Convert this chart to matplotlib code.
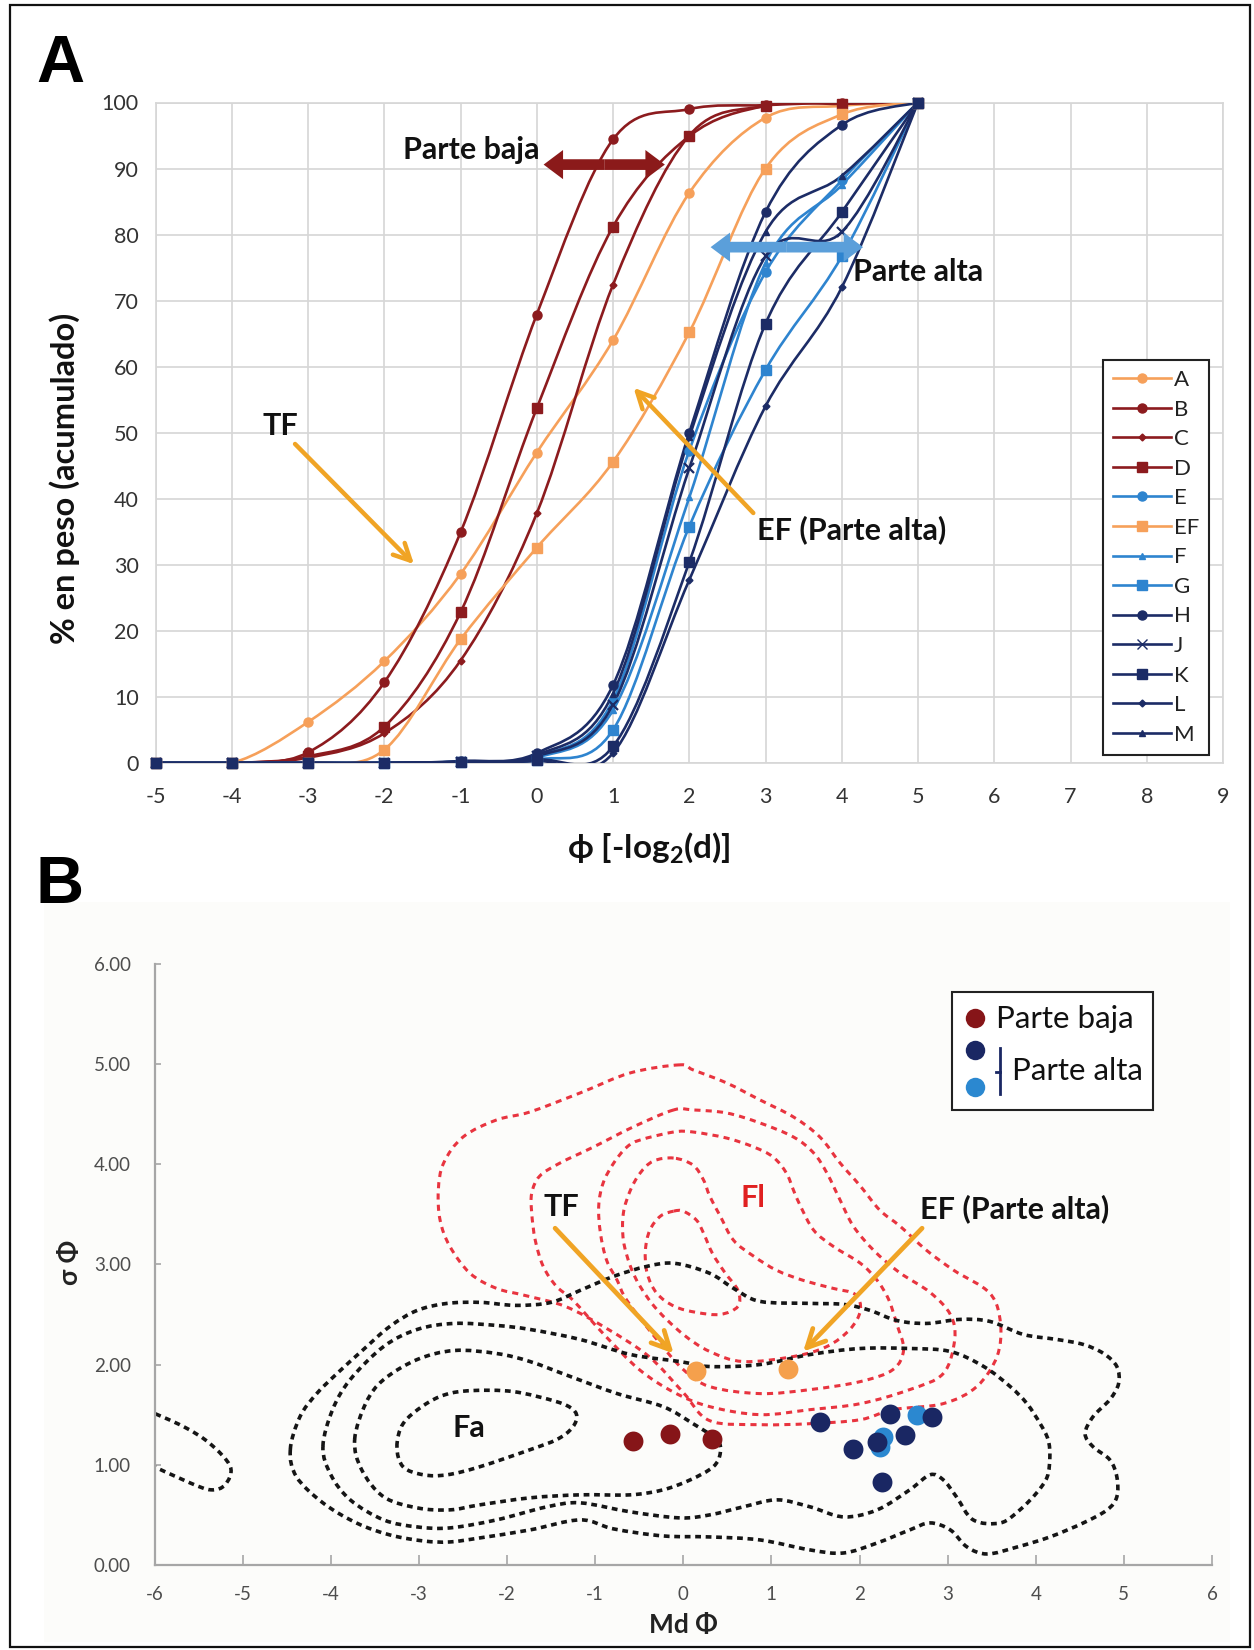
import numpy as np
import matplotlib
matplotlib.use("Agg")
import matplotlib.pyplot as plt
from matplotlib.path import Path
from matplotlib.patches import PathPatch, Rectangle, FancyArrowPatch
from matplotlib.lines import Line2D

plt.rcParams['font.family'] = ['Lato', 'DejaVu Sans']
plt.rcParams['mathtext.fontset'] = 'custom'
plt.rcParams['mathtext.rm'] = 'Lato:bold'
plt.rcParams['mathtext.it'] = 'Lato:bold'
plt.rcParams['mathtext.bf'] = 'Lato:bold'
plt.rcParams['axes.unicode_minus'] = False

W, H, DPI = 1254, 1650, 100

# ------------------------------------------------------------------ data A
phi = [-5, -4, -3, -2, -1, 0, 1, 2, 3, 4, 5]
series_names = ['A', 'B', 'C', 'D', 'E', 'EF', 'F', 'G', 'H', 'J', 'K', 'L', 'M']
s_A = [0, 0, 6.2, 15.4, 28.6, 47.0, 64.0, 86.3, 97.7, 99.5, 100]
s_B = [0, 0, 1.6, 12.2, 34.9, 67.9, 94.4, 99.0, 99.6, 100, 100]
s_C = [0, 0, 0.8, 4.5, 15.5, 37.8, 72.4, 95.0, 99.5, 100, 100]
s_D = [0, 0, 1.0, 5.5, 22.8, 53.7, 81.2, 94.9, 99.5, 99.8, 100]
s_E = [0, 0, 0, 0, 0.2, 1.0, 9.5, 47.3, 74.3, 88.2, 100]
s_EF = [0, 0, 0, 2.0, 18.7, 32.6, 45.6, 65.2, 90.0, 98.2, 100]
s_F = [0, 0, 0, 0, 0.2, 0.8, 8.0, 40.2, 75.7, 87.5, 100]
s_G = [0, 0, 0, 0, 0.1, 0.5, 5.0, 35.8, 59.5, 76.7, 100]
s_H = [0, 0, 0, 0, 0.3, 1.5, 11.8, 50.0, 83.4, 96.6, 100]
s_J = [0, 0, 0, 0, 0.2, 1.0, 8.8, 44.6, 76.7, 80.4, 100]
s_K = [0, 0, 0, 0, 0.1, 0.5, 2.5, 30.4, 66.5, 83.4, 100]
s_L = [0, 0, 0, 0, 0.1, 0.3, 1.5, 27.7, 54.0, 72.0, 100]
s_M = [0, 0, 0, 0, 0.2, 1.2, 10.5, 49.3, 80.4, 88.9, 100]
series_vals = [s_A, s_B, s_C, s_D, s_E, s_EF, s_F, s_G, s_H, s_J, s_K, s_L, s_M]
xticksA = list(range(-5, 10))
yticksA = list(range(0, 101, 10))

# ------------------------------------------------------------------ data B
baja_md = [-0.57, -0.15, 0.33]
baja_sd = [1.24, 1.31, 1.26]
orange_md = [0.14, 1.19]
orange_sd = [1.94, 1.96]
alta_dark_md = [1.55, 2.35, 2.82, 2.52, 1.93, 2.20, 2.25]
alta_dark_sd = [1.43, 1.51, 1.48, 1.30, 1.16, 1.23, 0.83]
alta_light_md = [2.65, 2.27, 2.23]
alta_light_sd = [1.50, 1.28, 1.18]
xticksB = list(range(-6, 7))
yticksB = [0, 1, 2, 3, 4, 5, 6]

# contour outlines (Md, sigma)
red_1 = [(-0.04, 4.99), (-0.60, 4.91), (-1.17, 4.71), (-1.74, 4.52), (-2.12, 4.44), (-2.50, 4.27),
         (-2.72, 4.01), (-2.78, 3.74), (-2.76, 3.44), (-2.65, 3.18), (-2.42, 2.91), (-2.12, 2.76),
         (-1.80, 2.69), (-1.34, 2.58), (-0.87, 2.36), (-0.39, 2.08), (0.0, 1.72), (0.30, 1.44),
         (0.87, 1.40), (1.44, 1.41), (2.01, 1.45), (2.38, 1.55), (2.95, 1.61), (3.33, 1.78),
         (3.56, 2.08), (3.60, 2.41), (3.48, 2.71), (3.07, 2.94), (2.76, 3.14), (2.46, 3.38),
         (2.23, 3.54), (2.01, 3.78), (1.78, 4.01), (1.55, 4.27), (1.25, 4.47), (0.87, 4.64),
         (0.49, 4.81), (0.11, 4.94)]
red_2 = [(-0.11, 4.54), (-0.57, 4.37), (-1.02, 4.17), (-1.40, 4.01), (-1.63, 3.88), (-1.72, 3.71),
         (-1.72, 3.51), (-1.68, 3.24), (-1.59, 2.98), (-1.44, 2.78), (-1.25, 2.64), (-0.90, 2.30),
         (-0.50, 1.95), (-0.10, 1.72), (0.30, 1.58), (0.87, 1.50), (1.44, 1.55), (2.01, 1.61),
         (2.57, 1.75), (2.95, 1.91), (3.08, 2.25), (3.03, 2.50), (2.80, 2.72), (2.45, 2.92),
         (2.16, 3.14), (1.93, 3.38), (1.78, 3.64), (1.63, 3.91), (1.48, 4.11), (1.25, 4.27),
         (0.87, 4.41), (0.49, 4.51), (0.11, 4.54)]
red_3 = [(-0.11, 4.32), (-0.49, 4.24), (-0.64, 4.17), (-0.79, 4.01), (-0.91, 3.81), (-0.96, 3.58),
         (-0.94, 3.31), (-0.87, 3.04), (-0.75, 2.84), (-0.64, 2.64), (-0.30, 2.25), (0.0, 1.95),
         (0.30, 1.78), (0.87, 1.71), (1.44, 1.75), (2.01, 1.83), (2.38, 1.95), (2.50, 2.15),
         (2.42, 2.41), (2.33, 2.65), (2.20, 2.84), (2.01, 3.01), (1.70, 3.18), (1.48, 3.34),
         (1.33, 3.58), (1.25, 3.74), (1.17, 3.91), (1.02, 4.07), (0.80, 4.17), (0.49, 4.26),
         (0.11, 4.32)]
red_4 = [(-0.11, 4.06), (-0.34, 4.03), (-0.49, 3.91), (-0.60, 3.74), (-0.68, 3.51), (-0.68, 3.24),
         (-0.60, 2.98), (-0.49, 2.78), (-0.30, 2.55), (0.0, 2.30), (0.30, 2.13), (0.68, 2.03),
         (1.25, 2.08), (1.63, 2.18), (1.89, 2.35), (2.01, 2.54), (1.95, 2.70), (1.70, 2.76),
         (1.36, 2.84), (1.06, 2.94), (0.80, 3.08), (0.57, 3.24), (0.42, 3.48), (0.30, 3.68),
         (0.23, 3.84), (0.11, 3.99)]
red_5 = [(-0.11, 3.53), (-0.26, 3.48), (-0.38, 3.34), (-0.43, 3.14), (-0.41, 2.91), (-0.30, 2.71),
         (-0.10, 2.58), (0.15, 2.52), (0.42, 2.50), (0.62, 2.58), (0.62, 2.74), (0.47, 2.92),
         (0.33, 3.11), (0.23, 3.31), (0.15, 3.44), (0.0, 3.53)]
black_1 = [(-3.25, 1.18), (-3.18, 1.41), (-2.95, 1.59), (-2.70, 1.70), (-2.40, 1.74), (-1.93, 1.73),
           (-1.44, 1.63), (-1.25, 1.55), (-1.21, 1.46), (-1.28, 1.35), (-1.44, 1.25), (-1.74, 1.15),
           (-2.31, 0.98), (-2.68, 0.90), (-2.95, 0.90), (-3.18, 0.98)]
black_2 = [(-3.73, 1.25), (-3.60, 1.62), (-3.40, 1.85), (-3.02, 2.05), (-2.60, 2.14), (-2.12, 2.11),
           (-1.74, 2.03), (-1.28, 1.88), (-0.75, 1.71), (-0.23, 1.58), (0.11, 1.41), (0.38, 1.25),
           (0.42, 1.12), (0.34, 0.98), (0.08, 0.85), (-0.23, 0.75), (-0.60, 0.70), (-1.17, 0.70),
           (-1.74, 0.67), (-2.31, 0.60), (-2.65, 0.55), (-3.02, 0.57), (-3.40, 0.68), (-3.65, 0.95)]
black_3 = [(-4.09, 1.18), (-3.98, 1.55), (-3.78, 1.85), (-3.40, 2.18), (-3.02, 2.35), (-2.60, 2.41),
           (-2.12, 2.39), (-1.74, 2.35), (-1.17, 2.25), (-0.60, 2.10), (-0.04, 2.03), (0.30, 1.98),
           (0.87, 2.00), (1.44, 2.10), (2.01, 2.16), (2.57, 2.16), (3.03, 2.13), (3.41, 1.98),
           (3.71, 1.78), (3.90, 1.61), (4.05, 1.41), (4.14, 1.25), (4.16, 1.08), (4.13, 0.88),
           (4.01, 0.72), (3.82, 0.55), (3.60, 0.42), (3.29, 0.45), (3.10, 0.68), (2.95, 0.85),
           (2.80, 0.90), (2.57, 0.75), (2.20, 0.55), (1.82, 0.48), (1.44, 0.58), (1.06, 0.65),
           (0.68, 0.58), (0.30, 0.50), (-0.04, 0.47), (-0.60, 0.53), (-1.17, 0.62), (-1.55, 0.58),
           (-2.12, 0.45), (-2.65, 0.37), (-3.02, 0.38), (-3.40, 0.45), (-3.78, 0.65), (-4.00, 0.90)]
black_4 = [(-4.46, 1.15), (-4.35, 1.48), (-4.16, 1.71), (-3.93, 1.91), (-3.63, 2.15), (-3.33, 2.38),
           (-3.02, 2.54), (-2.68, 2.61), (-2.30, 2.62), (-1.90, 2.59), (-1.50, 2.62), (-1.17, 2.74),
           (-0.79, 2.88), (-0.41, 2.98), (-0.10, 3.01), (0.30, 2.91), (0.57, 2.76), (0.87, 2.63),
           (1.44, 2.61), (1.82, 2.60), (2.12, 2.54), (2.42, 2.44), (2.76, 2.41), (3.14, 2.45),
           (3.48, 2.43), (3.86, 2.30), (4.24, 2.25), (4.54, 2.20), (4.77, 2.11), (4.92, 1.98),
           (4.94, 1.81), (4.84, 1.65), (4.65, 1.48), (4.56, 1.31), (4.65, 1.18), (4.84, 1.05),
           (4.92, 0.88), (4.92, 0.68), (4.81, 0.55), (4.54, 0.42), (4.16, 0.28), (3.79, 0.18),
           (3.45, 0.11), (3.22, 0.18), (3.03, 0.35), (2.80, 0.42), (2.57, 0.35), (2.20, 0.22),
           (1.82, 0.12), (1.44, 0.15), (0.87, 0.25), (0.30, 0.28), (-0.23, 0.29), (-0.79, 0.36),
           (-1.17, 0.45), (-1.74, 0.35), (-2.31, 0.27), (-2.65, 0.23), (-2.95, 0.24), (-3.33, 0.30),
           (-3.71, 0.42), (-4.09, 0.62), (-4.39, 0.88)]
black_left = [(-6.10, 1.55), (-5.67, 1.38), (-5.37, 1.21), (-5.14, 0.98), (-5.20, 0.80), (-5.36, 0.75),
              (-5.60, 0.82), (-6.10, 1.02)]

# ------------------------------------------------------------------ helpers
def fx(px):
    return px / W


def fy(py):
    return 1 - py / H


def smooth_path(pts, closed=False):
    pts = np.asarray(pts, dtype=float)
    n = len(pts)
    verts = [pts[0]]
    codes = [Path.MOVETO]
    rng = range(n) if closed else range(n - 1)
    for i in rng:
        p1 = pts[i]
        p2 = pts[(i + 1) % n]
        if closed:
            p0 = pts[(i - 1) % n]
            p3 = pts[(i + 2) % n]
        else:
            p0 = pts[i - 1] if i > 0 else pts[i]
            p3 = pts[i + 2] if i + 2 < n else pts[i + 1]
        c1 = p1 + (p2 - p0) / 6.0
        c2 = p2 - (p3 - p1) / 6.0
        verts += [c1, c2, p2]
        codes += [Path.CURVE4] * 3
    return Path(verts, codes)


ORANGE = '#F6A05A'
DRED = '#8C1B1E'
MBLUE = '#2E84CF'
NAVY = '#1C2C66'
ARROW_OR = '#F0A425'

colors = {'A': ORANGE, 'B': DRED, 'C': DRED, 'D': DRED, 'E': MBLUE, 'EF': ORANGE,
          'F': MBLUE, 'G': MBLUE, 'H': NAVY, 'J': NAVY, 'K': NAVY, 'L': NAVY, 'M': NAVY}
markers = {'A': ('o', 6.5), 'B': ('o', 6.5), 'C': ('D', 3.5), 'D': ('s', 7), 'E': ('o', 6.5),
           'EF': ('s', 6.5), 'F': ('^', 5), 'G': ('s', 6.5), 'H': ('o', 6.5), 'J': ('x', 6.5),
           'K': ('s', 7), 'L': ('D', 3.5), 'M': ('^', 5)}

fig = plt.figure(figsize=(W / DPI, H / DPI), dpi=DPI)

# outer frame
fig.patches.append(Rectangle((fx(10), fy(1647)), fx(1250) - fx(10), fy(5) - fy(1647),
                             transform=fig.transFigure, fill=False, ec='#111111', lw=1.6,
                             zorder=-4))
# faint background of panel B picture
fig.patches.append(Rectangle((fx(44), fy(1642)), fx(1230) - fx(44), fy(902) - fy(1642),
                             transform=fig.transFigure, fc='#FCFCFA', ec='none', zorder=-5))

# ================================================================== panel A
axA = fig.add_axes([fx(155.5), fy(763), fx(1223) - fx(155.5), fy(102.5) - fy(763)])
axA.set_xlim(-5, 9)
axA.set_ylim(0, 100)
axA.set_xticks(xticksA)
axA.set_yticks(yticksA)
axA.grid(True, color='#D6D6D6', lw=1.2)
axA.set_axisbelow(True)
for sp in axA.spines.values():
    sp.set_color('#D6D6D6')
    sp.set_linewidth(1.2)
axA.tick_params(length=0, labelsize=15.5, labelcolor='#333333')
axA.tick_params(axis='y', pad=12)
axA.tick_params(axis='x', pad=17)

handles = []
for name, vals in zip(series_names, series_vals):
    c = colors[name]
    m, ms = markers[name]
    axA.add_patch(PathPatch(smooth_path(list(zip(phi, vals))), fill=False, ec=c, lw=1.9,
                            zorder=3))
    axA.plot(phi, vals, ls='none', marker=m, ms=ms, color=c, mfc=c, mec=c,
             mew=1.6 if m == 'x' else 1, zorder=4, clip_on=False)
    handles.append(Line2D([0], [0], color=c, lw=1.9, marker=m, ms=ms, mfc=c, mec=c))

leg = axA.legend(handles, series_names, loc='upper left', bbox_to_anchor=(fx(1103), fy(360)),
                 bbox_transform=fig.transFigure, frameon=True, fancybox=False, edgecolor='#222222',
                 framealpha=1, fontsize=16, labelspacing=0.43, handlelength=2.6,
                 handletextpad=0.15, borderpad=0.45, borderaxespad=0)
leg.get_frame().set_linewidth(1.5)
leg.set_zorder(8)
for t in leg.get_texts():
    t.set_color('#222222')

fig.text(fx(65), fy(478), '% en peso (acumulado)', rotation=90, ha='center', va='center',
         fontsize=23.5, fontweight='bold', color='#111111')
fig.text(fx(649), fy(848), r'ϕ [-log$_2$(d)]', ha='center', va='center', fontsize=24,
         fontweight='bold', color='#111111')

# arrows and labels in A
def double_arrow(ax, x0, x1, y, color, ms=14):
    xm = (x0 + x1) / 2
    for xe in (x0, x1):
        ax.add_patch(FancyArrowPatch((xm, y), (xe, y),
                                     arrowstyle='simple,head_length=1.0,head_width=1.5,tail_width=0.55',
                                     mutation_scale=ms, color=color, lw=0, zorder=6,
                                     shrinkA=0, shrinkB=0))

double_arrow(axA, 0.09, 1.68, 90.6, '#8B1A1A')
double_arrow(axA, 2.28, 4.28, 78.1, '#5B9FDA')
TXT = dict(fontsize=22, fontweight='bold', color='#111111', zorder=7)
axA.text(0.04, 92.8, 'Parte baja', ha='right', va='center', **TXT)
axA.text(4.15, 74.3, 'Parte alta', ha='left', va='center', **TXT)
axA.text(-3.60, 51.0, 'TF', ha='left', va='center', **TXT)
axA.text(2.89, 35.3, 'EF (Parte alta)', ha='left', va='center', **TXT)
arrow_kw = dict(arrowstyle='->,head_length=1.2,head_width=0.6', lw=3.2, color=ARROW_OR,
                shrinkA=0, shrinkB=0)
axA.annotate('', xy=(-1.61, 30.1), xytext=(-3.17, 48.3), arrowprops=arrow_kw, zorder=6)
axA.annotate('', xy=(1.27, 56.8), xytext=(2.84, 37.85), arrowprops=arrow_kw, zorder=6)

fig.text(fx(36), fy(82), 'A', fontsize=48, fontweight='bold', family='Liberation Sans',
         va='baseline', ha='left')
fig.text(fx(36), fy(903), 'B', fontsize=48, fontweight='bold', family='Liberation Sans',
         va='baseline', ha='left')

# ================================================================== panel B
axB = fig.add_axes([fx(154.6), fy(1565), fx(1212) - fx(154.6), fy(963.6) - fy(1565)])
axB.set_facecolor('none')
axB.set_xlim(-6, 6)
axB.set_ylim(0, 6)
axB.set_xticks(xticksB)
axB.set_yticks(yticksB)
axB.set_yticklabels(['%.2f' % v for v in yticksB])
axB.set_xticklabels([str(v) for v in xticksB])
for side in ('top', 'right'):
    axB.spines[side].set_visible(False)
for side in ('left', 'bottom'):
    axB.spines[side].set_color('#A6A6A6')
    axB.spines[side].set_linewidth(1.6)
axB.tick_params(direction='in', length=7, width=1.2, color='#A6A6A6', labelsize=13.5,
                labelcolor='#4D4D4D')
axB.tick_params(axis='y', length=4, pad=17)
axB.tick_params(axis='x', pad=15)

RED_C = '#E8343F'
for pts in (red_1, red_2, red_3, red_4, red_5):
    axB.add_patch(PathPatch(smooth_path(pts, closed=True), fill=False, ec=RED_C, lw=2.2,
                            ls=(0, (2.0, 1.7)), zorder=2))
for pts in (black_1, black_2, black_3, black_4):
    axB.add_patch(PathPatch(smooth_path(pts, closed=True), fill=False, ec='#151515', lw=2.6,
                            ls=(0, (1.6, 1.3)), zorder=2))
axB.add_patch(PathPatch(smooth_path(black_left), fill=False, ec='#151515', lw=2.6,
                        ls=(0, (1.6, 1.3)), zorder=2))

axB.scatter(baja_md, baja_sd, s=205, color='#861518', lw=0, zorder=5)
axB.scatter(orange_md, orange_sd, s=205, color='#F5A04C', lw=0, zorder=5)
axB.scatter(alta_light_md, alta_light_sd, s=205, color='#2B88D0', lw=0, zorder=5)
axB.scatter(alta_dark_md, alta_dark_sd, s=205, color='#1A2763', lw=0, zorder=6)

TXTB = dict(fontsize=22, fontweight='bold')
axB.text(-1.59, 3.57, 'TF', ha='left', va='center', color='#111111', **TXTB)
axB.text(2.69, 3.55, 'EF (Parte alta)', ha='left', va='center', color='#111111', **TXTB)
axB.text(0.79, 3.66, 'Fl', ha='center', va='center', color='#E02020', **TXTB)
axB.text(-2.43, 1.37, 'Fa', ha='center', va='center', color='#111111', **TXTB)
arrow_kwB = dict(arrowstyle='->,head_length=1.3,head_width=0.65', lw=3.4, color=ARROW_OR,
                 shrinkA=0, shrinkB=0)
axB.annotate('', xy=(-0.11, 2.11), xytext=(-1.455, 3.36), arrowprops=arrow_kwB, zorder=4)
axB.annotate('', xy=(1.36, 2.13), xytext=(2.71, 3.36), arrowprops=arrow_kwB, zorder=4)

fig.text(fx(683), fy(1625), 'Md Φ', ha='center', va='center', fontsize=19, fontweight='bold',
         color='#222222')
fig.text(fx(70), fy(1262), 'σ Φ', ha='center', va='center', fontsize=19, fontweight='bold',
         color='#222222', rotation=90)

# legend B (drawn manually)
fig.patches.append(Rectangle((fx(952), fy(1110)), fx(1153) - fx(952), fy(992) - fy(1110),
                             transform=fig.transFigure, fc='white', ec='#222222', lw=1.5, zorder=8))
legB_y = [fy(1018), fy(1050), fy(1087)]
legB_c = ['#861518', '#1A2763', '#2B88D0']
for yy, cc in zip(legB_y, legB_c):
    fig.add_artist(Line2D([fx(975)], [yy], transform=fig.transFigure, ls='none', marker='o',
                          ms=14, color=cc, mew=0, zorder=9))
fig.add_artist(Line2D([fx(1000), fx(1000)], [fy(1048), fy(1094)], transform=fig.transFigure,
                      color='#1A2763', lw=2, zorder=9))
fig.add_artist(Line2D([fx(996), fx(1000)], [fy(1072), fy(1072)], transform=fig.transFigure,
                      color='#1A2763', lw=2, zorder=9))
fig.text(fx(996), fy(1019), 'Parte baja', ha='left', va='center', fontsize=22.5, color='#111111',
         zorder=10)
fig.text(fx(1012), fy(1071), 'Parte alta', ha='left', va='center', fontsize=22.5, color='#111111',
         zorder=10)

fig.savefig('out.png', dpi=DPI)
